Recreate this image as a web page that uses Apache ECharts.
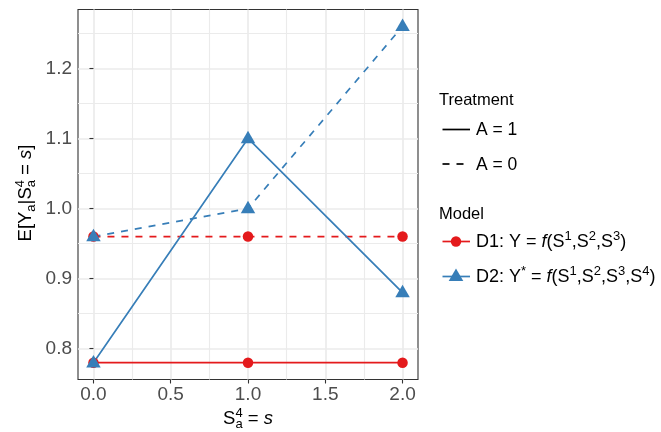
<!DOCTYPE html>
<html><head><meta charset="utf-8">
<script src="https://cdn.jsdelivr.net/npm/echarts@6/dist/echarts.min.js"></script>
<style>html,body{margin:0;padding:0;background:#fff}#c{width:661px;height:432px}</style>
</head><body><div id="c"></div>
<script>
// ---- data ----
const xValues = [0, 1, 2];
const d1A1 = [0.78, 0.78, 0.78];
const d1A0 = [0.96, 0.96, 0.96];
const d2A1 = [0.78, 1.10, 0.88];
const d2A0 = [0.96, 1.00, 1.26];
const xTicks = [0, 0.5, 1, 1.5, 2];
const xMinor = [0.25, 0.75, 1.25, 1.75];
const yTicks = [0.8, 0.9, 1.0, 1.1, 1.2];
const yMinor = [0.85, 0.95, 1.05, 1.15, 1.25];
const xRange = [-0.1, 2.1];
const yRange = [0.756, 1.284];

const RED = '#E41A1C', BLUE = '#377EB8';
const FONT = '"Liberation Sans", Arial, Helvetica, sans-serif';
const DASH = [7, 7];

const pts = ys => xValues.map((x, i) => [x, ys[i]]);

const mctx = document.createElement('canvas').getContext('2d');
function tw(t, size, it) { mctx.font = (it ? 'italic ' : '') + size + 'px ' + FONT; return mctx.measureText(t).width; }
function row(pieces, color) {
  let x = 0, prevX = 0, prevW = 0; const items = [];
  for (const p of pieces) {
    const w = tw(p.t, p.s, p.it);
    let px;
    if (p.over) { px = prevX; const adv = Math.max(prevW, w); x = prevX + adv; prevW = adv; }
    else { px = x; x += w; prevX = px; prevW = w; }
    items.push({ p, px });
  }
  const children = items.map(({ p, px }) => ({
    type: 'text', x: px, y: (p.dy || 0) - 0.34 * p.s,
    style: { text: p.t, fontSize: p.s, fontFamily: FONT, fontStyle: p.it ? 'italic' : 'normal',
             fill: color || '#000', align: 'left', verticalAlign: 'middle' }
  }));
  return { children, width: x };
}
function textGroup(pieces, x, y, opts) {
  opts = opts || {};
  const r = row(pieces, opts.color);
  const off = opts.center ? -r.width / 2 : 0;
  r.children.forEach(c => c.x += off);
  return { type: 'group', x, y, rotation: opts.rotation || 0, children: r.children };
}

const T = 18.5, S = 13, L = 18, LS = 13;
const yTitle = [
  { t: 'E[', s: T }, { t: 'Y', s: T }, { t: 'a', s: S, dy: 4 }, { t: '|', s: T },
  { t: 'S', s: T }, { t: 'a', s: S, dy: 4 }, { t: '4', s: S, dy: -7.5, over: true },
  { t: ' = ', s: T }, { t: 's', s: T, it: true }, { t: ']', s: T }
];
const xTitle = [
  { t: 'S', s: T }, { t: 'a', s: S, dy: 4 }, { t: '4', s: S, dy: -7.5, over: true },
  { t: ' = ', s: T }, { t: 's', s: T, it: true }
];
const d1Label = [
  { t: 'D1: Y = ', s: L }, { t: 'f', s: L, it: true }, { t: '(S', s: L }, { t: '1', s: LS, dy: -7 },
  { t: ',S', s: L }, { t: '2', s: LS, dy: -7 }, { t: ',S', s: L }, { t: '3', s: LS, dy: -7 }, { t: ')', s: L }
];
const d2Label = [
  { t: 'D2: Y', s: L }, { t: '*', s: LS, dy: -7 }, { t: ' = ', s: L }, { t: 'f', s: L, it: true },
  { t: '(S', s: L }, { t: '1', s: LS, dy: -7 }, { t: ',S', s: L }, { t: '2', s: LS, dy: -7 },
  { t: ',S', s: L }, { t: '3', s: LS, dy: -7 }, { t: ',S', s: L }, { t: '4', s: LS, dy: -7 }, { t: ')', s: L }
];

const axisLbl = { color: '#4d4d4d', fontSize: 19, fontFamily: FONT };
const chart = echarts.init(document.getElementById('c'), null, { renderer: 'canvas' });
chart.setOption({
  animation: false,
  backgroundColor: '#fff',
  grid: { left: 78, top: 9.5, width: 340, height: 370, show: true, borderColor: '#333', borderWidth: 1.1, backgroundColor: '#fff' },
  xAxis: [
    { type: 'value', min: xRange[0], max: xRange[1], position: 'bottom',
      axisLine: { show: false },
      axisTick: { show: true, customValues: xTicks, length: 4, lineStyle: { color: '#333', width: 1.1 } },
      axisLabel: Object.assign({ customValues: xTicks, margin: 6, formatter: v => v.toFixed(1) }, axisLbl),
      splitLine: { show: true, lineStyle: { color: '#ebebeb', width: 1.7 } } },
    { type: 'value', min: xRange[0], max: xRange[1], position: 'bottom',
      axisLine: { show: false }, axisTick: { show: false, customValues: xMinor },
      axisLabel: { show: false, customValues: xMinor },
      splitLine: { show: true, lineStyle: { color: '#ebebeb', width: 1.1 } } }
  ],
  yAxis: [
    { type: 'value', min: yRange[0], max: yRange[1], position: 'left',
      axisLine: { show: false },
      axisTick: { show: true, customValues: yTicks, length: 4, lineStyle: { color: '#333', width: 1.1 } },
      axisLabel: Object.assign({ customValues: yTicks, margin: 6, formatter: v => v.toFixed(1) }, axisLbl),
      splitLine: { show: true, lineStyle: { color: '#ebebeb', width: 1.7 } } },
    { type: 'value', min: yRange[0], max: yRange[1], position: 'left',
      axisLine: { show: false }, axisTick: { show: false, customValues: yMinor },
      axisLabel: { show: false, customValues: yMinor },
      splitLine: { show: true, lineStyle: { color: '#ebebeb', width: 1.1 } } }
  ],
  series: [
    { type: 'line', data: pts(d1A1), symbol: 'none', z: 2, lineStyle: { color: RED, width: 1.7 } },
    { type: 'line', data: pts(d1A0), symbol: 'none', z: 2, lineStyle: { color: RED, width: 1.7, type: DASH } },
    { type: 'line', data: pts(d2A1), symbol: 'none', z: 2, lineStyle: { color: BLUE, width: 1.7 } },
    { type: 'line', data: pts(d2A0), symbol: 'none', z: 2, lineStyle: { color: BLUE, width: 1.7, type: DASH } },
    { type: 'scatter', data: pts(d1A1).concat(pts(d1A0)), symbol: 'circle', symbolSize: 10.5, z: 3, itemStyle: { color: RED, opacity: 1 } },
    { type: 'scatter', data: pts(d2A1).concat(pts(d2A0)), symbol: 'triangle', symbolSize: [14.5, 12.5], symbolOffset: [0, -1.5], z: 4, itemStyle: { color: BLUE, opacity: 1 } }
  ],
  graphic: [
    textGroup(xTitle, 248, 425, { center: true }),
    textGroup(yTitle, 32, 193, { center: true, rotation: Math.PI / 2 }),
    textGroup([{ t: 'Treatment', s: 16.5 }], 439, 106.5),
    { type: 'line', shape: { x1: 442.5, y1: 129.5, x2: 470, y2: 129.5 }, style: { stroke: '#000', lineWidth: 1.7 } },
    textGroup([{ t: 'A = 1', s: 17.5 }], 476, 136.5),
    { type: 'line', shape: { x1: 442.5, y1: 164, x2: 470, y2: 164 }, style: { stroke: '#000', lineWidth: 1.7, lineDash: DASH } },
    textGroup([{ t: 'A = 0', s: 17.5 }], 476, 171),
    textGroup([{ t: 'Model', s: 16.5 }], 439, 220),
    { type: 'line', shape: { x1: 442.5, y1: 241.5, x2: 470, y2: 241.5 }, style: { stroke: RED, lineWidth: 1.7 } },
    { type: 'circle', shape: { cx: 456, cy: 241.5, r: 5.2 }, style: { fill: RED } },
    textGroup(d1Label, 476, 248),
    { type: 'line', shape: { x1: 442.5, y1: 276.5, x2: 470, y2: 276.5 }, style: { stroke: BLUE, lineWidth: 1.7 } },
    { type: 'polygon', shape: { points: [[456, 268.5], [463.3, 281], [448.7, 281]] }, style: { fill: BLUE } },
    textGroup(d2Label, 476, 283)
  ]
});
</script></body></html>
